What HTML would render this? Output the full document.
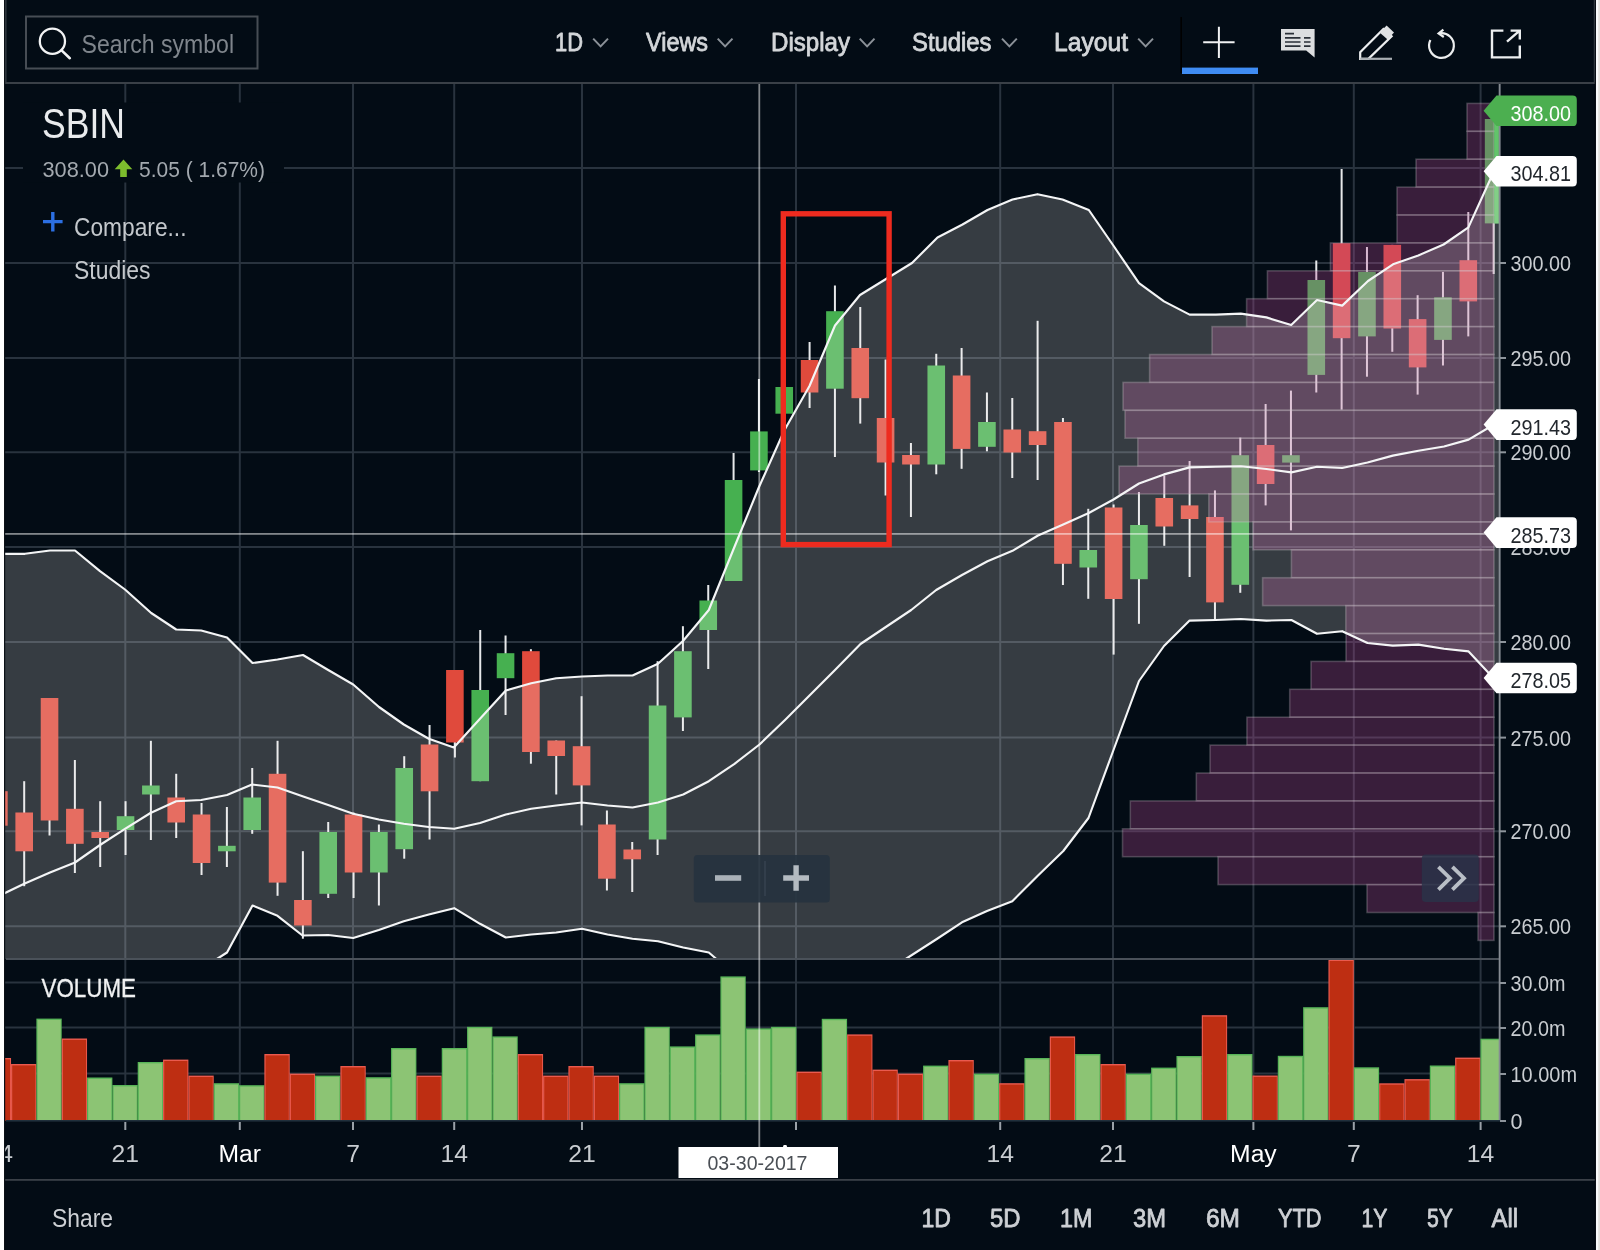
<!DOCTYPE html>
<html><head><meta charset="utf-8"><title>SBIN chart</title>
<style>
html,body{margin:0;padding:0;background:#fff;}
body{width:1600px;height:1250px;overflow:hidden;font-family:"Liberation Sans", sans-serif;}
svg{display:block;position:absolute;left:0;top:0;will-change:transform;}
text{font-family:"Liberation Sans", sans-serif;}
</style></head><body>
<svg width="1600" height="1250" viewBox="0 0 1600 1250">
<defs>
<clipPath id="plot"><rect x="4" y="84" width="1495.5" height="875"/></clipPath>
<clipPath id="frameclip"><rect x="4.5" y="0" width="1590" height="1250"/></clipPath>
<clipPath id="volclip"><rect x="4" y="959" width="1495.5" height="162"/></clipPath>
</defs>

<rect x="0" y="0" width="1600" height="1250" fill="#ffffff"/>
<rect x="1595.8" y="0" width="2.5" height="1250" fill="#f9fafb"/>
<rect x="1598.2" y="0" width="1.8" height="1250" fill="#e3e1de"/>
<rect x="4" y="0" width="1591.8" height="1250" fill="#030c15"/>
<rect x="5" y="0" width="1.5" height="83" fill="#353c44"/>
<rect x="1593.8" y="0" width="1.6" height="83" fill="#3a4149"/>
<g stroke="#29333e" stroke-width="2" fill="none">
<line x1="4.3" y1="168" x2="1499" y2="168"/>
<line x1="4.3" y1="263" x2="1499" y2="263"/>
<line x1="4.3" y1="358" x2="1499" y2="358"/>
<line x1="4.3" y1="452.3" x2="1499" y2="452.3"/>
<line x1="4.3" y1="547" x2="1499" y2="547"/>
<line x1="4.3" y1="642" x2="1499" y2="642"/>
<line x1="4.3" y1="737.6" x2="1499" y2="737.6"/>
<line x1="4.3" y1="831.3" x2="1499" y2="831.3"/>
<line x1="4.3" y1="926.3" x2="1499" y2="926.3"/>
<line x1="4.3" y1="982.5" x2="1499" y2="982.5"/>
<line x1="4.3" y1="1027.6" x2="1499" y2="1027.6"/>
<line x1="4.3" y1="1073.6" x2="1499" y2="1073.6"/>
<line x1="125.3" y1="84" x2="125.3" y2="1120"/>
<line x1="239.8" y1="84" x2="239.8" y2="1120"/>
<line x1="353" y1="84" x2="353" y2="1120"/>
<line x1="454.2" y1="84" x2="454.2" y2="1120"/>
<line x1="582" y1="84" x2="582" y2="1120"/>
<line x1="796" y1="84" x2="796" y2="1120"/>
<line x1="1000.2" y1="84" x2="1000.2" y2="1120"/>
<line x1="1113" y1="84" x2="1113" y2="1120"/>
<line x1="1253.4" y1="84" x2="1253.4" y2="1120"/>
<line x1="1353.8" y1="84" x2="1353.8" y2="1120"/>
<line x1="1480.6" y1="84" x2="1480.6" y2="1120"/>
</g>
<g clip-path="url(#plot)">
<rect x="-9.94" y="791.2" width="17.6" height="34.5" fill="#e04a3c"/>
<rect x="23.20" y="781.2" width="2" height="105.0" fill="#e6e8ea"/>
<rect x="15.40" y="812.5" width="17.6" height="38.8" fill="#e04a3c"/>
<rect x="48.53" y="698.0" width="2" height="137.5" fill="#e6e8ea"/>
<rect x="40.73" y="698.0" width="17.6" height="122.5" fill="#e04a3c"/>
<rect x="73.87" y="760.0" width="2" height="113.0" fill="#e6e8ea"/>
<rect x="66.07" y="808.8" width="17.6" height="35.0" fill="#e04a3c"/>
<rect x="99.20" y="801.2" width="2" height="65.8" fill="#e6e8ea"/>
<rect x="91.41" y="832.0" width="17.6" height="6.0" fill="#e04a3c"/>
<rect x="124.54" y="801.2" width="2" height="53.8" fill="#e6e8ea"/>
<rect x="116.74" y="816.2" width="17.6" height="13.8" fill="#46b050"/>
<rect x="149.88" y="740.8" width="2" height="99.2" fill="#e6e8ea"/>
<rect x="142.07" y="785.5" width="17.6" height="9.0" fill="#46b050"/>
<rect x="175.21" y="773.8" width="2" height="64.2" fill="#e6e8ea"/>
<rect x="167.41" y="797.5" width="17.6" height="25.0" fill="#e04a3c"/>
<rect x="200.54" y="803.0" width="2" height="72.0" fill="#e6e8ea"/>
<rect x="192.74" y="814.5" width="17.6" height="48.5" fill="#e04a3c"/>
<rect x="225.88" y="807.0" width="2" height="60.0" fill="#e6e8ea"/>
<rect x="218.08" y="845.8" width="17.6" height="5.5" fill="#46b050"/>
<rect x="251.22" y="768.0" width="2" height="65.8" fill="#e6e8ea"/>
<rect x="243.41" y="797.5" width="17.6" height="32.5" fill="#46b050"/>
<rect x="276.55" y="740.8" width="2" height="155.0" fill="#e6e8ea"/>
<rect x="268.75" y="773.8" width="17.6" height="108.8" fill="#e04a3c"/>
<rect x="301.88" y="851.2" width="2" height="87.5" fill="#e6e8ea"/>
<rect x="294.08" y="900.0" width="17.6" height="25.5" fill="#e04a3c"/>
<rect x="327.22" y="822.0" width="2" height="76.0" fill="#e6e8ea"/>
<rect x="319.42" y="832.0" width="17.6" height="61.8" fill="#46b050"/>
<rect x="352.56" y="812.5" width="2" height="85.5" fill="#e6e8ea"/>
<rect x="344.75" y="814.5" width="17.6" height="58.0" fill="#e04a3c"/>
<rect x="377.89" y="824.5" width="2" height="81.0" fill="#e6e8ea"/>
<rect x="370.09" y="832.0" width="17.6" height="40.5" fill="#46b050"/>
<rect x="403.23" y="756.2" width="2" height="102.5" fill="#e6e8ea"/>
<rect x="395.43" y="768.0" width="17.6" height="81.2" fill="#46b050"/>
<rect x="428.56" y="725.0" width="2" height="114.5" fill="#e6e8ea"/>
<rect x="420.76" y="744.5" width="17.6" height="46.8" fill="#e04a3c"/>
<rect x="453.89" y="670.0" width="2" height="87.5" fill="#e6e8ea"/>
<rect x="446.09" y="670.0" width="17.6" height="72.5" fill="#e04a3c"/>
<rect x="479.23" y="630.0" width="2" height="151.2" fill="#e6e8ea"/>
<rect x="471.43" y="690.0" width="17.6" height="91.2" fill="#46b050"/>
<rect x="504.56" y="635.5" width="2" height="79.5" fill="#e6e8ea"/>
<rect x="496.76" y="653.2" width="17.6" height="25.0" fill="#46b050"/>
<rect x="529.90" y="649.2" width="2" height="114.5" fill="#e6e8ea"/>
<rect x="522.10" y="651.2" width="17.6" height="100.8" fill="#e04a3c"/>
<rect x="555.24" y="740.5" width="2" height="54.0" fill="#e6e8ea"/>
<rect x="547.44" y="740.5" width="17.6" height="15.5" fill="#e04a3c"/>
<rect x="580.57" y="696.2" width="2" height="129.2" fill="#e6e8ea"/>
<rect x="572.77" y="746.2" width="17.6" height="39.2" fill="#e04a3c"/>
<rect x="605.91" y="810.5" width="2" height="80.0" fill="#e6e8ea"/>
<rect x="598.11" y="824.5" width="17.6" height="54.2" fill="#e04a3c"/>
<rect x="631.24" y="842.0" width="2" height="50.0" fill="#e6e8ea"/>
<rect x="623.44" y="849.5" width="17.6" height="9.8" fill="#e04a3c"/>
<rect x="656.58" y="661.2" width="2" height="193.8" fill="#e6e8ea"/>
<rect x="648.78" y="705.5" width="17.6" height="134.0" fill="#46b050"/>
<rect x="681.91" y="626.2" width="2" height="104.8" fill="#e6e8ea"/>
<rect x="674.11" y="651.2" width="17.6" height="66.2" fill="#46b050"/>
<rect x="707.25" y="585.0" width="2" height="84.0" fill="#e6e8ea"/>
<rect x="699.45" y="600.5" width="17.6" height="29.5" fill="#46b050"/>
<rect x="732.58" y="453.0" width="2" height="128.0" fill="#e6e8ea"/>
<rect x="724.78" y="480.0" width="17.6" height="101.0" fill="#46b050"/>
<rect x="757.92" y="379.0" width="2" height="93.0" fill="#e6e8ea"/>
<rect x="750.12" y="431.4" width="17.6" height="39.0" fill="#46b050"/>
<rect x="775.45" y="387.0" width="17.6" height="26.7" fill="#46b050"/>
<rect x="808.59" y="342.0" width="2" height="66.0" fill="#e6e8ea"/>
<rect x="800.79" y="360.0" width="17.6" height="32.5" fill="#e04a3c"/>
<rect x="833.92" y="285.5" width="2" height="171.5" fill="#e6e8ea"/>
<rect x="826.12" y="311.2" width="17.6" height="77.5" fill="#46b050"/>
<rect x="859.26" y="307.0" width="2" height="116.6" fill="#e6e8ea"/>
<rect x="851.46" y="348.0" width="17.6" height="50.2" fill="#e04a3c"/>
<rect x="884.59" y="359.5" width="2" height="136.0" fill="#e6e8ea"/>
<rect x="876.79" y="418.0" width="17.6" height="44.5" fill="#e04a3c"/>
<rect x="909.93" y="443.0" width="2" height="74.0" fill="#e6e8ea"/>
<rect x="902.13" y="455.0" width="17.6" height="9.5" fill="#e04a3c"/>
<rect x="935.26" y="353.8" width="2" height="120.5" fill="#e6e8ea"/>
<rect x="927.46" y="365.5" width="17.6" height="99.0" fill="#46b050"/>
<rect x="960.60" y="348.0" width="2" height="120.8" fill="#e6e8ea"/>
<rect x="952.80" y="375.5" width="17.6" height="73.4" fill="#e04a3c"/>
<rect x="985.93" y="392.5" width="2" height="58.8" fill="#e6e8ea"/>
<rect x="978.13" y="422.0" width="17.6" height="24.8" fill="#46b050"/>
<rect x="1011.27" y="398.0" width="2" height="80.0" fill="#e6e8ea"/>
<rect x="1003.47" y="429.5" width="17.6" height="23.0" fill="#e04a3c"/>
<rect x="1036.60" y="320.8" width="2" height="159.2" fill="#e6e8ea"/>
<rect x="1028.80" y="431.2" width="17.6" height="13.8" fill="#e04a3c"/>
<rect x="1061.94" y="418.0" width="2" height="167.0" fill="#e6e8ea"/>
<rect x="1054.14" y="422.0" width="17.6" height="141.8" fill="#e04a3c"/>
<rect x="1087.27" y="508.8" width="2" height="90.0" fill="#e6e8ea"/>
<rect x="1079.47" y="550.0" width="17.6" height="17.5" fill="#46b050"/>
<rect x="1112.61" y="504.5" width="2" height="150.1" fill="#e6e8ea"/>
<rect x="1104.81" y="507.5" width="17.6" height="91.5" fill="#e04a3c"/>
<rect x="1137.94" y="492.0" width="2" height="131.8" fill="#e6e8ea"/>
<rect x="1130.14" y="525.0" width="17.6" height="54.2" fill="#46b050"/>
<rect x="1163.28" y="475.4" width="2" height="70.4" fill="#e6e8ea"/>
<rect x="1155.48" y="498.0" width="17.6" height="28.5" fill="#e04a3c"/>
<rect x="1188.61" y="461.0" width="2" height="116.0" fill="#e6e8ea"/>
<rect x="1180.81" y="505.4" width="17.6" height="13.6" fill="#e04a3c"/>
<rect x="1213.95" y="490.4" width="2" height="129.6" fill="#e6e8ea"/>
<rect x="1206.15" y="517.0" width="17.6" height="85.4" fill="#e04a3c"/>
<rect x="1239.28" y="437.6" width="2" height="155.2" fill="#e6e8ea"/>
<rect x="1231.48" y="455.2" width="17.6" height="129.6" fill="#46b050"/>
<rect x="1264.62" y="404.0" width="2" height="101.4" fill="#e6e8ea"/>
<rect x="1256.82" y="445.0" width="17.6" height="39.0" fill="#e04a3c"/>
<rect x="1289.95" y="390.6" width="2" height="139.8" fill="#e6e8ea"/>
<rect x="1282.15" y="455.2" width="17.6" height="7.4" fill="#46b050"/>
<rect x="1315.29" y="260.5" width="2" height="132.0" fill="#e6e8ea"/>
<rect x="1307.49" y="280.0" width="17.6" height="94.9" fill="#46b050"/>
<rect x="1340.62" y="169.0" width="2" height="240.6" fill="#e6e8ea"/>
<rect x="1332.82" y="243.2" width="17.6" height="95.0" fill="#e04a3c"/>
<rect x="1365.96" y="247.0" width="2" height="129.7" fill="#e6e8ea"/>
<rect x="1358.16" y="271.9" width="17.6" height="64.5" fill="#46b050"/>
<rect x="1391.29" y="244.9" width="2" height="106.9" fill="#e6e8ea"/>
<rect x="1383.49" y="244.9" width="17.6" height="83.6" fill="#e04a3c"/>
<rect x="1416.62" y="295.2" width="2" height="99.4" fill="#e6e8ea"/>
<rect x="1408.83" y="319.1" width="17.6" height="48.3" fill="#e04a3c"/>
<rect x="1441.96" y="271.9" width="2" height="93.6" fill="#e6e8ea"/>
<rect x="1434.16" y="297.3" width="17.6" height="42.6" fill="#46b050"/>
<rect x="1467.30" y="212.0" width="2" height="124.4" fill="#e6e8ea"/>
<rect x="1459.50" y="260.2" width="17.6" height="41.2" fill="#e04a3c"/>
<rect x="1492.63" y="119.0" width="2" height="155.0" fill="#e6e8ea"/>
<rect x="1484.83" y="119.0" width="17.6" height="104.4" fill="#46b050"/>
</g>
<g clip-path="url(#plot)" fill="rgba(182,74,150,0.30)" stroke="rgba(205,200,205,0.27)" stroke-width="1.6">
<rect x="1467.0" y="103.4" width="27.0" height="27.9"/>
<rect x="1467.0" y="131.3" width="27.0" height="27.9"/>
<rect x="1416.0" y="159.2" width="78.0" height="27.9"/>
<rect x="1397.0" y="187.1" width="97.0" height="27.9"/>
<rect x="1397.0" y="215.0" width="97.0" height="27.9"/>
<rect x="1330.4" y="242.9" width="163.6" height="27.9"/>
<rect x="1267.4" y="270.8" width="226.6" height="27.9"/>
<rect x="1246.6" y="298.7" width="247.4" height="27.9"/>
<rect x="1212.0" y="326.6" width="282.0" height="27.9"/>
<rect x="1149.6" y="354.5" width="344.4" height="27.9"/>
<rect x="1123.0" y="382.4" width="371.0" height="27.9"/>
<rect x="1125.0" y="410.3" width="369.0" height="27.9"/>
<rect x="1137.8" y="438.2" width="356.2" height="27.9"/>
<rect x="1119.0" y="466.1" width="375.0" height="27.9"/>
<rect x="1208.8" y="494.0" width="285.2" height="27.9"/>
<rect x="1253.0" y="521.9" width="241.0" height="27.9"/>
<rect x="1291.4" y="549.8" width="202.6" height="27.9"/>
<rect x="1262.6" y="577.7" width="231.4" height="27.9"/>
<rect x="1345.8" y="605.6" width="148.2" height="27.9"/>
<rect x="1346.0" y="633.5" width="148.0" height="27.9"/>
<rect x="1311.0" y="661.4" width="183.0" height="27.9"/>
<rect x="1289.7" y="689.3" width="204.3" height="27.9"/>
<rect x="1246.9" y="717.2" width="247.1" height="27.9"/>
<rect x="1210.0" y="745.1" width="284.0" height="27.9"/>
<rect x="1196.3" y="773.0" width="297.7" height="27.9"/>
<rect x="1130.3" y="800.9" width="363.7" height="27.9"/>
<rect x="1122.5" y="828.8" width="371.5" height="27.9"/>
<rect x="1218.0" y="856.7" width="276.0" height="27.9"/>
<rect x="1367.0" y="884.6" width="127.0" height="27.9"/>
<rect x="1478.0" y="912.5" width="16.0" height="27.9"/>
</g>
<rect x="1494.7" y="119" width="4.1" height="104.4" fill="#62c46a"/>
<g clip-path="url(#plot)">
<polygon points="4.0,553.8 25.0,553.8 50.0,550.5 75.0,550.5 100.0,571.2 125.0,589.5 151.2,613.0 176.2,629.5 201.2,630.5 227.0,637.5 252.5,663.0 277.5,659.5 303.0,655.0 328.2,670.0 353.2,684.5 379.0,707.0 403.8,724.5 428.8,738.8 453.8,747.5 480.0,718.8 505.8,690.5 531.2,683.2 556.2,678.2 582.0,676.5 607.5,675.5 632.5,675.5 658.0,663.8 683.2,640.8 708.8,610.0 734.0,548.0 759.0,487.0 784.5,430.0 809.5,386.0 835.0,325.5 860.0,295.0 886.0,279.0 912.0,263.0 937.5,237.5 962.5,224.5 987.5,210.0 1012.5,199.5 1037.5,194.2 1062.5,199.5 1088.8,210.0 1113.0,245.0 1139.0,283.2 1164.0,301.4 1189.6,314.6 1215.8,314.6 1240.8,313.6 1266.4,317.4 1291.2,325.0 1317.0,300.0 1342.2,305.6 1368.0,281.0 1393.0,264.3 1418.3,255.4 1443.6,244.5 1468.4,227.4 1493.6,172.0 1499.2,160.0 1499.2,690.0 1493.6,678.2 1468.6,651.4 1444.0,648.8 1418.4,644.6 1392.8,645.6 1367.5,643.0 1342.2,631.2 1317.0,633.8 1291.4,620.0 1266.4,620.6 1240.8,619.0 1215.8,620.0 1189.6,620.6 1164.0,646.0 1139.0,681.0 1113.5,750.0 1088.5,818.0 1063.3,851.0 1037.5,876.0 1012.3,901.3 987.0,911.0 962.0,922.3 936.8,939.0 905.0,959.5 860.0,1000.0 760.0,1000.0 717.0,959.5 708.8,952.5 683.2,947.5 658.0,941.2 632.5,938.8 607.5,934.5 582.0,928.8 556.2,932.5 531.2,934.5 505.8,937.5 480.0,923.8 454.2,908.2 428.8,914.5 403.8,921.2 378.8,930.0 353.2,938.0 328.2,935.0 302.5,935.5 277.5,915.8 252.5,905.5 227.0,952.5 216.2,959.5 4.0,1010.0" fill="rgba(255,251,243,0.205)"/>
<polyline points="4.0,553.8 25.0,553.8 50.0,550.5 75.0,550.5 100.0,571.2 125.0,589.5 151.2,613.0 176.2,629.5 201.2,630.5 227.0,637.5 252.5,663.0 277.5,659.5 303.0,655.0 328.2,670.0 353.2,684.5 379.0,707.0 403.8,724.5 428.8,738.8 453.8,747.5 480.0,718.8 505.8,690.5 531.2,683.2 556.2,678.2 582.0,676.5 607.5,675.5 632.5,675.5 658.0,663.8 683.2,640.8 708.8,610.0 734.0,548.0 759.0,487.0 784.5,430.0 809.5,386.0 835.0,325.5 860.0,295.0 886.0,279.0 912.0,263.0 937.5,237.5 962.5,224.5 987.5,210.0 1012.5,199.5 1037.5,194.2 1062.5,199.5 1088.8,210.0 1113.0,245.0 1139.0,283.2 1164.0,301.4 1189.6,314.6 1215.8,314.6 1240.8,313.6 1266.4,317.4 1291.2,325.0 1317.0,300.0 1342.2,305.6 1368.0,281.0 1393.0,264.3 1418.3,255.4 1443.6,244.5 1468.4,227.4 1493.6,172.0" fill="none" stroke="#f4f5f6" stroke-width="2.15" stroke-linejoin="round"/>
<polyline points="4.0,893.5 24.2,883.8 50.0,872.5 75.0,862.5 100.0,845.0 125.0,828.8 150.5,813.0 176.2,801.2 201.2,800.0 227.0,795.0 252.0,784.5 277.5,787.5 302.5,796.2 328.2,805.0 353.2,813.8 378.8,819.5 403.8,823.8 428.8,827.0 454.2,828.8 480.0,823.0 505.8,814.5 531.2,808.8 556.2,805.5 582.0,802.5 607.5,805.5 632.5,807.5 658.0,802.5 683.2,794.5 708.8,781.2 734.5,763.8 759.5,744.5 785.0,720.0 810.0,695.0 835.0,670.0 860.5,644.0 885.8,627.0 911.2,610.0 936.2,590.0 962.0,575.0 987.5,561.2 1012.5,550.8 1038.0,535.5 1063.2,524.5 1088.8,513.0 1113.5,499.5 1139.0,483.5 1164.0,474.4 1189.6,467.4 1215.8,466.8 1240.8,466.2 1266.4,469.0 1291.4,472.4 1317.0,466.8 1342.2,468.0 1367.5,462.5 1392.8,455.6 1418.4,450.8 1444.0,446.5 1468.6,439.6 1493.6,424.8" fill="none" stroke="#f4f5f6" stroke-width="2.15" stroke-linejoin="round"/>
<polyline points="4.0,1010.0 216.2,959.5 227.0,952.5 252.5,905.5 277.5,915.8 302.5,935.5 328.2,935.0 353.2,938.0 378.8,930.0 403.8,921.2 428.8,914.5 454.2,908.2 480.0,923.8 505.8,937.5 531.2,934.5 556.2,932.5 582.0,928.8 607.5,934.5 632.5,938.8 658.0,941.2 683.2,947.5 708.8,952.5 717.0,959.5 760.0,1000.0 860.0,1000.0 905.0,959.5 936.8,939.0 962.0,922.3 987.0,911.0 1012.3,901.3 1037.5,876.0 1063.3,851.0 1088.5,818.0 1113.5,750.0 1139.0,681.0 1164.0,646.0 1189.6,620.6 1215.8,620.0 1240.8,619.0 1266.4,620.6 1291.4,620.0 1317.0,633.8 1342.2,631.2 1367.5,643.0 1392.8,645.6 1418.4,644.6 1444.0,648.8 1468.6,651.4 1493.6,678.2" fill="none" stroke="#f4f5f6" stroke-width="2.15" stroke-linejoin="round"/>
</g>
<g clip-path="url(#volclip)">
<rect x="-14.30" y="1058.0" width="25.34" height="62.5" fill="#ea5a4e"/>
<rect x="-13.10" y="1059.4" width="23.14" height="61.1" fill="#be2e12"/>
<rect x="11.03" y="1064.0" width="25.34" height="56.5" fill="#ea5a4e"/>
<rect x="12.23" y="1065.4" width="23.14" height="55.1" fill="#be2e12"/>
<rect x="36.37" y="1018.6" width="25.34" height="101.9" fill="#58b558"/>
<rect x="37.57" y="1020.0" width="23.14" height="100.5" fill="#8cc474"/>
<rect x="61.70" y="1038.5" width="25.34" height="82.0" fill="#ea5a4e"/>
<rect x="62.90" y="1039.9" width="23.14" height="80.6" fill="#be2e12"/>
<rect x="87.04" y="1077.5" width="25.34" height="43.0" fill="#58b558"/>
<rect x="88.24" y="1078.9" width="23.14" height="41.6" fill="#8cc474"/>
<rect x="112.37" y="1085.0" width="25.34" height="35.5" fill="#58b558"/>
<rect x="113.57" y="1086.4" width="23.14" height="34.1" fill="#8cc474"/>
<rect x="137.71" y="1062.0" width="25.34" height="58.5" fill="#58b558"/>
<rect x="138.91" y="1063.4" width="23.14" height="57.1" fill="#8cc474"/>
<rect x="163.04" y="1059.6" width="25.34" height="60.9" fill="#ea5a4e"/>
<rect x="164.24" y="1061.0" width="23.14" height="59.5" fill="#be2e12"/>
<rect x="188.38" y="1075.6" width="25.34" height="44.9" fill="#ea5a4e"/>
<rect x="189.58" y="1077.0" width="23.14" height="43.5" fill="#be2e12"/>
<rect x="213.71" y="1083.2" width="25.34" height="37.3" fill="#58b558"/>
<rect x="214.91" y="1084.6" width="23.14" height="35.9" fill="#8cc474"/>
<rect x="239.05" y="1085.2" width="25.34" height="35.3" fill="#58b558"/>
<rect x="240.25" y="1086.6" width="23.14" height="33.9" fill="#8cc474"/>
<rect x="264.38" y="1054.0" width="25.34" height="66.5" fill="#ea5a4e"/>
<rect x="265.58" y="1055.4" width="23.14" height="65.1" fill="#be2e12"/>
<rect x="289.72" y="1073.6" width="25.34" height="46.9" fill="#ea5a4e"/>
<rect x="290.92" y="1075.0" width="23.14" height="45.5" fill="#be2e12"/>
<rect x="315.05" y="1075.6" width="25.34" height="44.9" fill="#58b558"/>
<rect x="316.25" y="1077.0" width="23.14" height="43.5" fill="#8cc474"/>
<rect x="340.39" y="1066.0" width="25.34" height="54.5" fill="#ea5a4e"/>
<rect x="341.59" y="1067.4" width="23.14" height="53.1" fill="#be2e12"/>
<rect x="365.72" y="1077.2" width="25.34" height="43.3" fill="#58b558"/>
<rect x="366.92" y="1078.6" width="23.14" height="41.9" fill="#8cc474"/>
<rect x="391.06" y="1048.0" width="25.34" height="72.5" fill="#58b558"/>
<rect x="392.26" y="1049.4" width="23.14" height="71.1" fill="#8cc474"/>
<rect x="416.39" y="1075.6" width="25.34" height="44.9" fill="#ea5a4e"/>
<rect x="417.59" y="1077.0" width="23.14" height="43.5" fill="#be2e12"/>
<rect x="441.73" y="1048.0" width="25.34" height="72.5" fill="#58b558"/>
<rect x="442.93" y="1049.4" width="23.14" height="71.1" fill="#8cc474"/>
<rect x="467.06" y="1026.8" width="25.34" height="93.7" fill="#58b558"/>
<rect x="468.26" y="1028.2" width="23.14" height="92.3" fill="#8cc474"/>
<rect x="492.40" y="1036.4" width="25.34" height="84.1" fill="#58b558"/>
<rect x="493.60" y="1037.8" width="23.14" height="82.7" fill="#8cc474"/>
<rect x="517.73" y="1054.0" width="25.34" height="66.5" fill="#ea5a4e"/>
<rect x="518.93" y="1055.4" width="23.14" height="65.1" fill="#be2e12"/>
<rect x="543.07" y="1075.6" width="25.34" height="44.9" fill="#ea5a4e"/>
<rect x="544.27" y="1077.0" width="23.14" height="43.5" fill="#be2e12"/>
<rect x="568.40" y="1066.0" width="25.34" height="54.5" fill="#ea5a4e"/>
<rect x="569.60" y="1067.4" width="23.14" height="53.1" fill="#be2e12"/>
<rect x="593.74" y="1075.6" width="25.34" height="44.9" fill="#ea5a4e"/>
<rect x="594.94" y="1077.0" width="23.14" height="43.5" fill="#be2e12"/>
<rect x="619.07" y="1083.2" width="25.34" height="37.3" fill="#58b558"/>
<rect x="620.27" y="1084.6" width="23.14" height="35.9" fill="#8cc474"/>
<rect x="644.41" y="1026.8" width="25.34" height="93.7" fill="#58b558"/>
<rect x="645.61" y="1028.2" width="23.14" height="92.3" fill="#8cc474"/>
<rect x="669.74" y="1046.4" width="25.34" height="74.1" fill="#58b558"/>
<rect x="670.94" y="1047.8" width="23.14" height="72.7" fill="#8cc474"/>
<rect x="695.08" y="1034.4" width="25.34" height="86.1" fill="#58b558"/>
<rect x="696.28" y="1035.8" width="23.14" height="84.7" fill="#8cc474"/>
<rect x="720.41" y="976.4" width="25.34" height="144.1" fill="#58b558"/>
<rect x="721.61" y="977.8" width="23.14" height="142.7" fill="#8cc474"/>
<rect x="745.75" y="1028.4" width="25.34" height="92.1" fill="#58b558"/>
<rect x="746.95" y="1029.8" width="23.14" height="90.7" fill="#8cc474"/>
<rect x="771.08" y="1026.8" width="25.34" height="93.7" fill="#58b558"/>
<rect x="772.28" y="1028.2" width="23.14" height="92.3" fill="#8cc474"/>
<rect x="796.42" y="1071.6" width="25.34" height="48.9" fill="#ea5a4e"/>
<rect x="797.62" y="1073.0" width="23.14" height="47.5" fill="#be2e12"/>
<rect x="821.75" y="1018.8" width="25.34" height="101.7" fill="#58b558"/>
<rect x="822.95" y="1020.2" width="23.14" height="100.3" fill="#8cc474"/>
<rect x="847.09" y="1034.4" width="25.34" height="86.1" fill="#ea5a4e"/>
<rect x="848.29" y="1035.8" width="23.14" height="84.7" fill="#be2e12"/>
<rect x="872.42" y="1069.6" width="25.34" height="50.9" fill="#ea5a4e"/>
<rect x="873.62" y="1071.0" width="23.14" height="49.5" fill="#be2e12"/>
<rect x="897.76" y="1073.6" width="25.34" height="46.9" fill="#ea5a4e"/>
<rect x="898.96" y="1075.0" width="23.14" height="45.5" fill="#be2e12"/>
<rect x="923.09" y="1065.6" width="25.34" height="54.9" fill="#58b558"/>
<rect x="924.29" y="1067.0" width="23.14" height="53.5" fill="#8cc474"/>
<rect x="948.43" y="1060.0" width="25.34" height="60.5" fill="#ea5a4e"/>
<rect x="949.63" y="1061.4" width="23.14" height="59.1" fill="#be2e12"/>
<rect x="973.76" y="1073.6" width="25.34" height="46.9" fill="#58b558"/>
<rect x="974.96" y="1075.0" width="23.14" height="45.5" fill="#8cc474"/>
<rect x="999.10" y="1083.2" width="25.34" height="37.3" fill="#ea5a4e"/>
<rect x="1000.30" y="1084.6" width="23.14" height="35.9" fill="#be2e12"/>
<rect x="1024.43" y="1058.0" width="25.34" height="62.5" fill="#58b558"/>
<rect x="1025.63" y="1059.4" width="23.14" height="61.1" fill="#8cc474"/>
<rect x="1049.77" y="1036.4" width="25.34" height="84.1" fill="#ea5a4e"/>
<rect x="1050.97" y="1037.8" width="23.14" height="82.7" fill="#be2e12"/>
<rect x="1075.10" y="1054.0" width="25.34" height="66.5" fill="#58b558"/>
<rect x="1076.30" y="1055.4" width="23.14" height="65.1" fill="#8cc474"/>
<rect x="1100.44" y="1064.0" width="25.34" height="56.5" fill="#ea5a4e"/>
<rect x="1101.64" y="1065.4" width="23.14" height="55.1" fill="#be2e12"/>
<rect x="1125.77" y="1073.6" width="25.34" height="46.9" fill="#58b558"/>
<rect x="1126.97" y="1075.0" width="23.14" height="45.5" fill="#8cc474"/>
<rect x="1151.11" y="1067.6" width="25.34" height="52.9" fill="#58b558"/>
<rect x="1152.31" y="1069.0" width="23.14" height="51.5" fill="#8cc474"/>
<rect x="1176.44" y="1056.0" width="25.34" height="64.5" fill="#58b558"/>
<rect x="1177.64" y="1057.4" width="23.14" height="63.1" fill="#8cc474"/>
<rect x="1201.78" y="1015.2" width="25.34" height="105.3" fill="#ea5a4e"/>
<rect x="1202.98" y="1016.6" width="23.14" height="103.9" fill="#be2e12"/>
<rect x="1227.11" y="1054.0" width="25.34" height="66.5" fill="#58b558"/>
<rect x="1228.31" y="1055.4" width="23.14" height="65.1" fill="#8cc474"/>
<rect x="1252.45" y="1075.5" width="25.34" height="45.0" fill="#ea5a4e"/>
<rect x="1253.65" y="1076.9" width="23.14" height="43.6" fill="#be2e12"/>
<rect x="1277.78" y="1055.8" width="25.34" height="64.7" fill="#58b558"/>
<rect x="1278.98" y="1057.2" width="23.14" height="63.3" fill="#8cc474"/>
<rect x="1303.12" y="1007.2" width="25.34" height="113.3" fill="#58b558"/>
<rect x="1304.32" y="1008.6" width="23.14" height="111.9" fill="#8cc474"/>
<rect x="1328.45" y="959.6" width="25.34" height="160.9" fill="#ea5a4e"/>
<rect x="1329.65" y="961.0" width="23.14" height="159.5" fill="#be2e12"/>
<rect x="1353.79" y="1067.3" width="25.34" height="53.2" fill="#58b558"/>
<rect x="1354.99" y="1068.7" width="23.14" height="51.8" fill="#8cc474"/>
<rect x="1379.12" y="1083.3" width="25.34" height="37.2" fill="#ea5a4e"/>
<rect x="1380.32" y="1084.7" width="23.14" height="35.8" fill="#be2e12"/>
<rect x="1404.46" y="1079.1" width="25.34" height="41.4" fill="#ea5a4e"/>
<rect x="1405.66" y="1080.5" width="23.14" height="40.0" fill="#be2e12"/>
<rect x="1429.79" y="1065.5" width="25.34" height="55.0" fill="#58b558"/>
<rect x="1430.99" y="1066.9" width="23.14" height="53.6" fill="#8cc474"/>
<rect x="1455.13" y="1057.6" width="25.34" height="62.9" fill="#ea5a4e"/>
<rect x="1456.33" y="1059.0" width="23.14" height="61.5" fill="#be2e12"/>
<rect x="1480.46" y="1038.7" width="25.34" height="81.8" fill="#58b558"/>
<rect x="1481.66" y="1040.1" width="23.14" height="80.4" fill="#8cc474"/>
</g>
<rect x="6" y="958" width="1494" height="2" fill="#4a5159"/>
<rect x="1498.7" y="84" width="1.9" height="1037" fill="#858b92"/>
<rect x="6" y="1120" width="1494" height="1.6" fill="#20303c"/>
<rect x="758.4" y="84" width="1.8" height="1064" fill="rgba(255,255,255,0.5)"/>
<rect x="4.3" y="533" width="1495" height="1.8" fill="rgba(255,255,255,0.5)"/>
<rect x="783.3" y="213.8" width="105.8" height="330.8" fill="none" stroke="#ee2b1f" stroke-width="5.4"/>
<rect x="1500" y="262" width="6" height="2" fill="#8d949b"/>
<text x="1510.5" y="271" font-size="21.6" fill="#c9cdd1" text-anchor="start" font-weight="normal" textLength="60.5" lengthAdjust="spacingAndGlyphs">300.00</text>
<rect x="1500" y="357" width="6" height="2" fill="#8d949b"/>
<text x="1510.5" y="366" font-size="21.6" fill="#c9cdd1" text-anchor="start" font-weight="normal" textLength="60.5" lengthAdjust="spacingAndGlyphs">295.00</text>
<rect x="1500" y="451.3" width="6" height="2" fill="#8d949b"/>
<text x="1510.5" y="460.3" font-size="21.6" fill="#c9cdd1" text-anchor="start" font-weight="normal" textLength="60.5" lengthAdjust="spacingAndGlyphs">290.00</text>
<rect x="1500" y="546" width="6" height="2" fill="#8d949b"/>
<text x="1510.5" y="555" font-size="21.6" fill="#c9cdd1" text-anchor="start" font-weight="normal" textLength="60.5" lengthAdjust="spacingAndGlyphs">285.00</text>
<rect x="1500" y="641" width="6" height="2" fill="#8d949b"/>
<text x="1510.5" y="650" font-size="21.6" fill="#c9cdd1" text-anchor="start" font-weight="normal" textLength="60.5" lengthAdjust="spacingAndGlyphs">280.00</text>
<rect x="1500" y="736.6" width="6" height="2" fill="#8d949b"/>
<text x="1510.5" y="745.6" font-size="21.6" fill="#c9cdd1" text-anchor="start" font-weight="normal" textLength="60.5" lengthAdjust="spacingAndGlyphs">275.00</text>
<rect x="1500" y="830.3" width="6" height="2" fill="#8d949b"/>
<text x="1510.5" y="839.3" font-size="21.6" fill="#c9cdd1" text-anchor="start" font-weight="normal" textLength="60.5" lengthAdjust="spacingAndGlyphs">270.00</text>
<rect x="1500" y="925.3" width="6" height="2" fill="#8d949b"/>
<text x="1510.5" y="934.3" font-size="21.6" fill="#c9cdd1" text-anchor="start" font-weight="normal" textLength="60.5" lengthAdjust="spacingAndGlyphs">265.00</text>
<rect x="1500" y="982" width="6" height="2" fill="#8d949b"/>
<text x="1510.5" y="991" font-size="21.6" fill="#c9cdd1" text-anchor="start" font-weight="normal" textLength="55" lengthAdjust="spacingAndGlyphs">30.0m</text>
<rect x="1500" y="1027" width="6" height="2" fill="#8d949b"/>
<text x="1510.5" y="1036" font-size="21.6" fill="#c9cdd1" text-anchor="start" font-weight="normal" textLength="55" lengthAdjust="spacingAndGlyphs">20.0m</text>
<rect x="1500" y="1073" width="6" height="2" fill="#8d949b"/>
<text x="1510.5" y="1082" font-size="21.6" fill="#c9cdd1" text-anchor="start" font-weight="normal" textLength="66.5" lengthAdjust="spacingAndGlyphs">10.00m</text>
<rect x="1500" y="1120" width="6" height="2" fill="#8d949b"/>
<text x="1510.5" y="1129" font-size="21.6" fill="#c9cdd1" text-anchor="start" font-weight="normal">0</text>
<path d="M1483.6 110.8 L1496.5 95.5 L1572.6 95.5 Q1576.8 95.5 1576.8 99.7 L1576.8 121.89999999999999 Q1576.8 126.1 1572.6 126.1 L1496.5 126.1 Z" fill="#4caf50"/>
<text x="1510.5" y="120.89999999999999" font-size="21.6" fill="#ffffff" text-anchor="start" font-weight="normal" textLength="60.5" lengthAdjust="spacingAndGlyphs">308.00</text>
<path d="M1483.6 171.2 L1496.5 155.89999999999998 L1572.6 155.89999999999998 Q1576.8 155.89999999999998 1576.8 160.09999999999997 L1576.8 182.3 Q1576.8 186.5 1572.6 186.5 L1496.5 186.5 Z" fill="#ffffff"/>
<text x="1510.5" y="181.29999999999998" font-size="21.6" fill="#22272d" text-anchor="start" font-weight="normal" textLength="60.5" lengthAdjust="spacingAndGlyphs">304.81</text>
<path d="M1483.6 424.6 L1496.5 409.3 L1572.6 409.3 Q1576.8 409.3 1576.8 413.5 L1576.8 435.70000000000005 Q1576.8 439.90000000000003 1572.6 439.90000000000003 L1496.5 439.90000000000003 Z" fill="#ffffff"/>
<text x="1510.5" y="434.70000000000005" font-size="21.6" fill="#22272d" text-anchor="start" font-weight="normal" textLength="60.5" lengthAdjust="spacingAndGlyphs">291.43</text>
<path d="M1483.6 532.6 L1496.5 517.3000000000001 L1572.6 517.3000000000001 Q1576.8 517.3000000000001 1576.8 521.5000000000001 L1576.8 543.6999999999999 Q1576.8 547.9 1572.6 547.9 L1496.5 547.9 Z" fill="#ffffff"/>
<text x="1510.5" y="542.7" font-size="21.6" fill="#22272d" text-anchor="start" font-weight="normal" textLength="60.5" lengthAdjust="spacingAndGlyphs">285.73</text>
<path d="M1483.6 678 L1496.5 662.7 L1572.6 662.7 Q1576.8 662.7 1576.8 666.9000000000001 L1576.8 689.0999999999999 Q1576.8 693.3 1572.6 693.3 L1496.5 693.3 Z" fill="#ffffff"/>
<text x="1510.5" y="688.1" font-size="21.6" fill="#22272d" text-anchor="start" font-weight="normal" textLength="60.5" lengthAdjust="spacingAndGlyphs">278.05</text>
<rect x="124.3" y="1122" width="2" height="8" fill="#9aa1a8"/>
<text x="125.3" y="1162.3" font-size="24.7" fill="#c9cdd1" text-anchor="middle" font-weight="normal">21</text>
<rect x="238.8" y="1122" width="2" height="8" fill="#9aa1a8"/>
<text x="239.8" y="1162.3" font-size="24.7" fill="#ffffff" text-anchor="middle" font-weight="normal">Mar</text>
<rect x="352" y="1122" width="2" height="8" fill="#9aa1a8"/>
<text x="353" y="1162.3" font-size="24.7" fill="#c9cdd1" text-anchor="middle" font-weight="normal">7</text>
<rect x="453.2" y="1122" width="2" height="8" fill="#9aa1a8"/>
<text x="454.2" y="1162.3" font-size="24.7" fill="#c9cdd1" text-anchor="middle" font-weight="normal">14</text>
<rect x="581" y="1122" width="2" height="8" fill="#9aa1a8"/>
<text x="582" y="1162.3" font-size="24.7" fill="#c9cdd1" text-anchor="middle" font-weight="normal">21</text>
<rect x="795" y="1122" width="2" height="8" fill="#9aa1a8"/>
<text x="796" y="1162.3" font-size="24.7" fill="#ffffff" text-anchor="middle" font-weight="normal">Apr</text>
<rect x="999.2" y="1122" width="2" height="8" fill="#9aa1a8"/>
<text x="1000.2" y="1162.3" font-size="24.7" fill="#c9cdd1" text-anchor="middle" font-weight="normal">14</text>
<rect x="1112" y="1122" width="2" height="8" fill="#9aa1a8"/>
<text x="1113" y="1162.3" font-size="24.7" fill="#c9cdd1" text-anchor="middle" font-weight="normal">21</text>
<rect x="1252.4" y="1122" width="2" height="8" fill="#9aa1a8"/>
<text x="1253.4" y="1162.3" font-size="24.7" fill="#ffffff" text-anchor="middle" font-weight="normal">May</text>
<rect x="1352.8" y="1122" width="2" height="8" fill="#9aa1a8"/>
<text x="1353.8" y="1162.3" font-size="24.7" fill="#c9cdd1" text-anchor="middle" font-weight="normal">7</text>
<rect x="1479.6" y="1122" width="2" height="8" fill="#9aa1a8"/>
<text x="1480.6" y="1162.3" font-size="24.7" fill="#c9cdd1" text-anchor="middle" font-weight="normal">14</text>
<text x="-0.8" y="1162.3" font-size="24.7" fill="#c9cdd1" text-anchor="start" font-weight="normal" clip-path="url(#frameclip)">4</text>
<rect x="678.5" y="1147" width="159.5" height="31" fill="#ffffff"/>
<text x="757.5" y="1170" font-size="19.5" fill="#4a4f55" text-anchor="middle" font-weight="normal" textLength="100" lengthAdjust="spacingAndGlyphs">03-30-2017</text>
<rect x="4.3" y="1179" width="1591.6" height="1.8" fill="#3a4047"/>
<rect x="4.3" y="82" width="1591.6" height="2" fill="#3a4047"/>
<text x="41.5" y="997.4" font-size="25.4" fill="#f0f1f2" text-anchor="start" font-weight="normal" textLength="94.5" lengthAdjust="spacingAndGlyphs" stroke="#f0f1f2" stroke-width="0.3">VOLUME</text>
<rect x="23" y="102.5" width="261" height="80" fill="#030c15"/>
<text x="42" y="138.2" font-size="42" fill="#e9ebed" text-anchor="start" font-weight="normal" textLength="83" lengthAdjust="spacingAndGlyphs">SBIN</text>
<text x="42.5" y="177.2" font-size="22.3" fill="#a3a9af" text-anchor="start" font-weight="normal" textLength="66.5" lengthAdjust="spacingAndGlyphs">308.00</text>
<path d="M123.5 159.6 L132.3 169.2 L126.8 169.2 L126.8 177 L120.2 177 L120.2 169.2 L114.7 169.2 Z" fill="#7dbd2d"/>
<text x="139" y="177.2" font-size="22.3" fill="#a3a9af" text-anchor="start" font-weight="normal" textLength="126" lengthAdjust="spacingAndGlyphs">5.05 ( 1.67%)</text>
<path d="M43 221.6 H62.6 M52.8 212 V231.4" stroke="#2c6fe2" stroke-width="3.4" fill="none"/>
<text x="74" y="235.6" font-size="26" fill="#c4c8cc" text-anchor="start" font-weight="normal" textLength="112.5" lengthAdjust="spacingAndGlyphs">Compare...</text>
<text x="74" y="278.6" font-size="26" fill="#c4c8cc" text-anchor="start" font-weight="normal" textLength="76.5" lengthAdjust="spacingAndGlyphs">Studies</text>
<rect x="26" y="16.5" width="231.5" height="52" fill="none" stroke="#474d54" stroke-width="2"/>
<circle cx="52.4" cy="41.2" r="12.6" fill="none" stroke="#f2f3f4" stroke-width="2.3"/>
<path d="M61.6 50.4 L69.8 58.2" stroke="#f2f3f4" stroke-width="2.6" stroke-linecap="round"/>
<text x="81.5" y="52.8" font-size="26.5" fill="#7f858c" text-anchor="start" font-weight="normal" textLength="152.5" lengthAdjust="spacingAndGlyphs">Search symbol</text>
<text x="555" y="50.8" font-size="25.4" fill="#d3d6d9" text-anchor="start" font-weight="normal" textLength="28" lengthAdjust="spacingAndGlyphs" stroke="#d3d6d9" stroke-width="0.8" stroke-linejoin="round">1D</text>
<path d="M593.2 38.6 L600.6 46.4 L608.0 38.6" stroke="#8b9198" stroke-width="2" fill="none"/>
<text x="646" y="50.8" font-size="25.4" fill="#d3d6d9" text-anchor="start" font-weight="normal" textLength="62" lengthAdjust="spacingAndGlyphs" stroke="#d3d6d9" stroke-width="0.8" stroke-linejoin="round">Views</text>
<path d="M717.7 38.6 L725.1 46.4 L732.5 38.6" stroke="#8b9198" stroke-width="2" fill="none"/>
<text x="771" y="50.8" font-size="25.4" fill="#d3d6d9" text-anchor="start" font-weight="normal" textLength="79" lengthAdjust="spacingAndGlyphs" stroke="#d3d6d9" stroke-width="0.8" stroke-linejoin="round">Display</text>
<path d="M859.7 38.6 L867.1 46.4 L874.5 38.6" stroke="#8b9198" stroke-width="2" fill="none"/>
<text x="912" y="50.8" font-size="25.4" fill="#d3d6d9" text-anchor="start" font-weight="normal" textLength="79.5" lengthAdjust="spacingAndGlyphs" stroke="#d3d6d9" stroke-width="0.8" stroke-linejoin="round">Studies</text>
<path d="M1002 38.6 L1009.4 46.4 L1016.8 38.6" stroke="#8b9198" stroke-width="2" fill="none"/>
<text x="1054" y="50.8" font-size="25.4" fill="#d3d6d9" text-anchor="start" font-weight="normal" textLength="74" lengthAdjust="spacingAndGlyphs" stroke="#d3d6d9" stroke-width="0.8" stroke-linejoin="round">Layout</text>
<path d="M1138.2 38.6 L1145.6000000000001 46.4 L1153.0 38.6" stroke="#8b9198" stroke-width="2" fill="none"/>
<rect x="1180.4" y="17" width="1.6" height="56" fill="#000000"/>
<path d="M1203.2 42.2 H1234.6 M1218.9 26.8 V58" stroke="#f0f1f2" stroke-width="2" fill="none"/>
<rect x="1182" y="67.6" width="76" height="6.4" fill="#3f8cf3"/>
<path d="M1281 29 H1314.6 V57.6 L1306.2 50.6 H1281 Z" fill="#dcdee0"/>
<g stroke="#2a3038" stroke-width="1.7"><path d="M1285 33.6 H1294 M1285 37.8 H1300.5 M1285 42 H1300.5 M1285 46.2 H1300.5 M1304 37.8 H1310.5 M1304 42 H1310.5 M1304 46.2 H1310.5"/></g>
<g fill="none" stroke="#eceeef" stroke-width="2.2" stroke-linejoin="miter"><path d="M1360.2 58.8 L1360.2 52.2 L1383.4 29 L1391.6 36.2 L1368.4 58.8 Z"/><path d="M1360.2 58.8 H1392" stroke="#a9aeb3"/></g>
<path d="M1379.6 32.6 L1386.6 25.6 L1394 32.4 L1387.6 39.6 Z" fill="#dfe1e3"/>
<path d="M1439.9 33.2 A12.4 12.4 0 1 1 1430.4 39.9" fill="none" stroke="#eceeef" stroke-width="2.2"/>
<path d="M1443.4 29.6 L1438.6 33.4 L1443.8 37" fill="none" stroke="#eceeef" stroke-width="2.2"/>
<g fill="none" stroke="#eceeef" stroke-width="2.4"><path d="M1503.4 30.6 H1492 V57.4 H1519.8 V45.6"/><path d="M1507 41.6 L1519.4 30.8 M1510.6 30.6 H1519.8 V39.6"/></g>
<rect x="693.8" y="855" width="136" height="47.4" rx="3.5" fill="rgba(38,51,63,0.92)"/>
<rect x="764.4" y="861" width="1.2" height="35" fill="#3b4753"/>
<rect x="715" y="875.2" width="26.2" height="5.6" fill="#aab1b8"/>
<path d="M783.2 878 H809 M796.1 865.2 V890.8" stroke="#b4bbc1" stroke-width="5.4" fill="none"/>
<rect x="1421.8" y="854.4" width="57" height="47.6" rx="4" fill="rgba(42,50,72,0.86)"/>
<path d="M1438.4 866.8 L1450 878.2 L1438.4 889.6 M1452.4 866.8 L1464 878.2 L1452.4 889.6" stroke="#b9bec6" stroke-width="3.8" fill="none"/>
<text x="52" y="1227.2" font-size="25.4" fill="#cdd0d4" text-anchor="start" font-weight="normal" textLength="61" lengthAdjust="spacingAndGlyphs">Share</text>
<text x="921.5" y="1227.2" font-size="25.4" fill="#cdd0d4" text-anchor="start" font-weight="normal" textLength="29.5" lengthAdjust="spacingAndGlyphs" stroke="#cdd0d4" stroke-width="0.8" stroke-linejoin="round">1D</text>
<text x="990" y="1227.2" font-size="25.4" fill="#cdd0d4" text-anchor="start" font-weight="normal" textLength="30.5" lengthAdjust="spacingAndGlyphs" stroke="#cdd0d4" stroke-width="0.8" stroke-linejoin="round">5D</text>
<text x="1060" y="1227.2" font-size="25.4" fill="#cdd0d4" text-anchor="start" font-weight="normal" textLength="32.5" lengthAdjust="spacingAndGlyphs" stroke="#cdd0d4" stroke-width="0.8" stroke-linejoin="round">1M</text>
<text x="1133" y="1227.2" font-size="25.4" fill="#cdd0d4" text-anchor="start" font-weight="normal" textLength="33" lengthAdjust="spacingAndGlyphs" stroke="#cdd0d4" stroke-width="0.8" stroke-linejoin="round">3M</text>
<text x="1206" y="1227.2" font-size="25.4" fill="#cdd0d4" text-anchor="start" font-weight="normal" textLength="34" lengthAdjust="spacingAndGlyphs" stroke="#cdd0d4" stroke-width="0.8" stroke-linejoin="round">6M</text>
<text x="1278" y="1227.2" font-size="25.4" fill="#cdd0d4" text-anchor="start" font-weight="normal" textLength="43.5" lengthAdjust="spacingAndGlyphs" stroke="#cdd0d4" stroke-width="0.8" stroke-linejoin="round">YTD</text>
<text x="1361.5" y="1227.2" font-size="25.4" fill="#cdd0d4" text-anchor="start" font-weight="normal" textLength="26.0" lengthAdjust="spacingAndGlyphs" stroke="#cdd0d4" stroke-width="0.8" stroke-linejoin="round">1Y</text>
<text x="1427" y="1227.2" font-size="25.4" fill="#cdd0d4" text-anchor="start" font-weight="normal" textLength="26" lengthAdjust="spacingAndGlyphs" stroke="#cdd0d4" stroke-width="0.8" stroke-linejoin="round">5Y</text>
<text x="1491.5" y="1227.2" font-size="25.4" fill="#cdd0d4" text-anchor="start" font-weight="normal" textLength="26.5" lengthAdjust="spacingAndGlyphs" stroke="#cdd0d4" stroke-width="0.8" stroke-linejoin="round">All</text>
<rect x="4" y="0" width="1.2" height="1250" fill="#0b1117"/>
<rect x="1594.8" y="0" width="1" height="1250" fill="#01040a"/>
</svg>
</body></html>
